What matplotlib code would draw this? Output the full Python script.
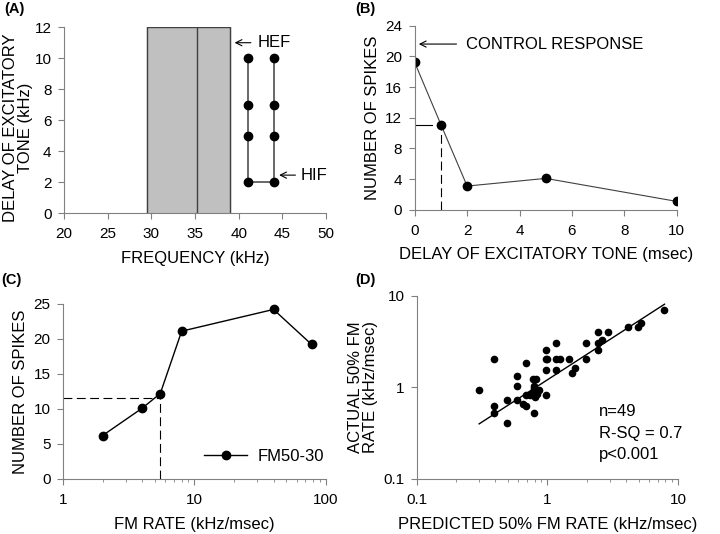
import matplotlib
matplotlib.use("Agg")
from matplotlib import pyplot as plt
import numpy as np

plt.rcParams["font.family"] = ["Liberation Sans", "DejaVu Sans"]
plt.rcParams["font.size"] = 11

# PANEL A DATA
rect_left, rect_mid, rect_right = 29.5, 35.2, 39.0
rect_top = 12
a_freq = [41, 41, 41, 41, 44, 44, 44, 44]
a_delay = [2, 5, 7, 10, 2, 5, 7, 10]

# PANEL B DATA
b_delay = [0, 1, 2, 5, 10]
b_spikes = [19.2, 11.1, 3.1, 4.1, 1.1]
b_half = (1, 11.1)

# PANEL C DATA
c_rate = [2, 4, 5.5, 8, 40, 78]
c_spikes = [6.2, 10.1, 12.2, 21.1, 24.2, 19.2]
c_half = (5.5, 11.6)

# PANEL D DATA
d_pred = [0.30, 0.39, 0.39, 0.39, 0.49, 0.49, 0.59, 0.59, 0.59, 0.68,
          0.68, 0.65, 0.68, 0.73, 0.77, 0.82, 0.79, 0.79, 0.79, 0.81,
          0.79, 0.87, 0.97, 0.97, 0.97, 0.97, 1.17, 1.17, 1.26, 1.17,
          1.46, 1.62, 1.55, 1.96, 1.96, 2.44, 2.44, 2.63, 2.94, 2.44,
          4.14, 4.93, 5.23, 7.89, 0.79, 0.75, 0.80, 0.84, 1.00]
d_actual = [0.93, 2.06, 0.62, 0.52, 0.72, 0.41, 1.33, 1.03, 0.72, 1.85,
            0.82, 0.66, 0.62, 0.82, 1.23, 1.23, 1.03, 0.93, 0.82, 0.78,
            0.52, 0.93, 0.82, 2.56, 2.04, 1.55, 3.06, 2.04, 2.04, 1.55,
            2.04, 1.63, 1.43, 2.04, 3.06, 4.03, 3.06, 3.27, 4.03, 2.54,
            4.58, 4.58, 5.06, 7.08, 0.98, 0.85, 0.87, 0.84, 2.04]
fit_x = [0.30, 7.9]
fit_y = [0.40, 8.1]

GRAY = "#808080"
LAB = 12


def style(ax):
    for s in ["top", "right"]:
        ax.spines[s].set_visible(False)
    for s in ["left", "bottom"]:
        ax.spines[s].set_color(GRAY)
    ax.tick_params(which="both", direction="out", color=GRAY, labelsize=11)
    ax.tick_params(which="major", length=4)
    ax.tick_params(which="minor", length=2)
    ax.tick_params(axis="x", which="major", pad=6)
    ax.tick_params(axis="y", which="major", pad=5)


fig = plt.figure(figsize=(7.2, 5.34), dpi=100)

# (A)
ax = fig.add_axes([0.089, 0.601, 0.364, 0.348])
style(ax)
ax.fill_between([rect_left, rect_right], 0, rect_top, color="#c0c0c0", zorder=1)
ax.plot([rect_left, rect_left, rect_right, rect_right], [0, rect_top, rect_top, 0],
        color="#404040", lw=1, zorder=2)
ax.plot([rect_mid, rect_mid], [0, rect_top], color="#404040", lw=1, zorder=2)
ax.plot([41, 41, 44, 44], [10, 2, 2, 10], color="#404040", lw=1.1, zorder=3)
ax.plot(a_freq, a_delay, "o", color="black", ms=6, zorder=4)
ax.annotate("", xy=(39.2, 11), xytext=(41.7, 11),
            arrowprops=dict(arrowstyle="->", color="black", lw=0.8))
ax.text(42.2, 11, "HEF", va="center", ha="left", fontsize=LAB)
ax.annotate("", xy=(44.3, 2.45), xytext=(46.8, 2.45),
            arrowprops=dict(arrowstyle="->", color="black", lw=0.8))
ax.text(47.1, 2.45, "HIF", va="center", ha="left", fontsize=LAB, clip_on=False)
ax.set_xlim(20, 50)
ax.set_ylim(0, 12)
ax.set_xticks(range(20, 51, 5))
ax.set_yticks(range(0, 13, 2))
ax.set_xlabel("FREQUENCY (kHz)", fontsize=LAB, labelpad=7)
ax.set_ylabel("DELAY OF EXCITATORY\nTONE (kHz)", fontsize=LAB, linespacing=1.0)
ax.yaxis.set_label_coords(-0.12, 0.46)
fig.text(0.006, 0.984, "(A)", fontweight="bold", fontsize=10.5, va="center")

# (B)
ax = fig.add_axes([0.576, 0.607, 0.364, 0.345])
style(ax)
ax.plot(b_delay, b_spikes, "-", color="#404040", lw=0.8)
ax.plot(b_delay, b_spikes, "o", color="black", ms=6)
ax.plot([0, 0.65], [b_half[1], b_half[1]], color="black", lw=0.8)
ax.plot([b_half[0], b_half[0]], [0, b_half[1]], color="black", lw=0.8,
        dashes=(8, 4))
ax.annotate("", xy=(0.05, 21.6), xytext=(1.7, 21.6),
            arrowprops=dict(arrowstyle="->", color="black", lw=0.8))
ax.text(1.97, 21.6, "CONTROL RESPONSE", va="center", ha="left", fontsize=LAB)
ax.set_xlim(0, 10)
ax.set_ylim(0, 24)
ax.set_xticks(range(0, 11, 2))
ax.set_yticks(range(0, 25, 4))
ax.set_xlabel("DELAY OF EXCITATORY TONE (msec)", fontsize=LAB, labelpad=7)
ax.set_ylabel("NUMBER OF SPIKES", fontsize=LAB)
fig.text(0.494, 0.984, "(B)", fontweight="bold", fontsize=10.5, va="center")

# (C)
ax = fig.add_axes([0.0875, 0.103, 0.365, 0.328])
style(ax)
ax.set_xscale("log")
ax.plot(c_rate, c_spikes, "-o", color="black", lw=1, ms=6, label="FM50-30")
ax.plot([1, c_half[0]], [c_half[1], c_half[1]], color="black", lw=0.8,
        dashes=(8, 4))
ax.plot([c_half[0], c_half[0]], [0, c_half[1]], color="black", lw=0.8,
        dashes=(8, 4))
ax.set_xlim(1, 100)
ax.set_ylim(0, 25)
ax.set_yticks(range(0, 26, 5))
ax.set_xticks([1, 10, 100])
ax.set_xticklabels(["1", "10", "100"])
ax.xaxis.set_minor_formatter(plt.NullFormatter())
ax.set_xlabel("FM RATE (kHz/msec)", fontsize=LAB, labelpad=7)
ax.set_ylabel("NUMBER OF SPIKES", fontsize=LAB)
ax.legend(loc="lower right", frameon=False, numpoints=1, fontsize=LAB,
          handlelength=2.6, handletextpad=0.6, bbox_to_anchor=(1.05, 0.0))
fig.text(0.002, 0.476, "(C)", fontweight="bold", fontsize=10.5, va="center")

# (D)
ax = fig.add_axes([0.579, 0.103, 0.3625, 0.343])
style(ax)
ax.set_xscale("log")
ax.set_yscale("log")
ax.plot(d_pred, d_actual, "o", color="black", ms=4.5)
ax.plot(fit_x, fit_y, "-", color="black", lw=1)
ax.set_xlim(0.1, 10)
ax.set_ylim(0.1, 10)
ax.set_xticks([0.1, 1, 10])
ax.set_xticklabels(["0.1", "1", "10"])
ax.set_yticks([0.1, 1, 10])
ax.set_yticklabels(["0.1", "1", "10"])
ax.xaxis.set_minor_formatter(plt.NullFormatter())
ax.yaxis.set_minor_formatter(plt.NullFormatter())
ax.tick_params(axis="y", which="minor", length=0)
ax.text(2.5, 0.66, "n=49\nR-SQ = 0.7\np<0.001", fontsize=LAB, va="top",
        linespacing=1.55)
ax.set_xlabel("PREDICTED 50% FM RATE (kHz/msec)", fontsize=LAB, labelpad=7)
ax.set_ylabel("ACTUAL 50% FM\nRATE (kHz/msec)", fontsize=LAB, linespacing=1.0)
fig.text(0.494, 0.476, "(D)", fontweight="bold", fontsize=10.5, va="center")

fig.savefig("out.png", dpi=100)
